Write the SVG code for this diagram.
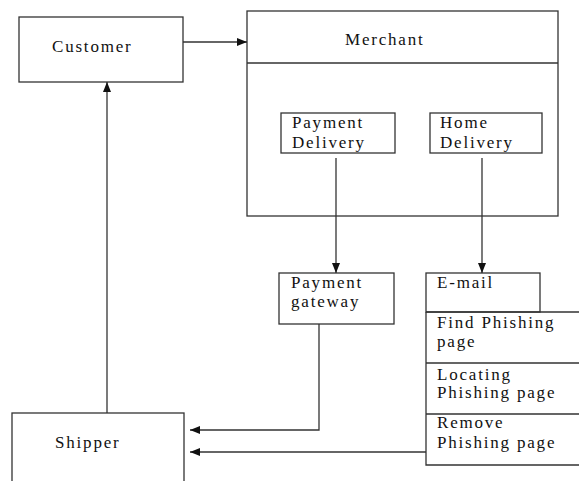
<svg xmlns="http://www.w3.org/2000/svg" width="579" height="481" viewBox="0 0 579 481">
<style>
.box{fill:#fff;stroke:#333;stroke-width:1.3}
.ln{fill:none;stroke:#333;stroke-width:1.3}
</style>
<defs>
<marker id="ah" viewBox="0 0 10 8" refX="10" refY="4" markerWidth="10" markerHeight="8" markerUnits="userSpaceOnUse" orient="auto">
<path d="M0,0 L10,4 L0,8 Z" fill="#111"/>
</marker>
</defs>
<rect width="579" height="481" fill="#fff"/>
<g font-family="Liberation Serif, Times New Roman, serif" font-size="17" letter-spacing="1.8" fill="#111">
<g id="customer">
<rect class="box" x="19" y="17" width="164" height="65"/>
<text x="52" y="52">Customer</text>
</g>
<g id="merchant">
<rect class="box" x="247" y="11" width="311" height="205"/>
<line class="ln" x1="247" y1="63" x2="558" y2="63"/>
<text x="345" y="45">Merchant</text>
</g>
<g id="payment-delivery">
<rect class="box" x="281" y="113" width="114" height="40"/>
<text x="292" y="128">Payment</text>
<text x="292" y="148">Delivery</text>
</g>
<g id="home-delivery">
<rect class="box" x="430" y="113" width="112" height="40"/>
<text x="440" y="128">Home</text>
<text x="440" y="148">Delivery</text>
</g>
<g id="payment-gateway">
<rect class="box" x="279" y="273" width="115" height="51"/>
<text x="291" y="288">Payment</text>
<text x="291" y="307">gateway</text>
</g>
<g id="email">
<rect class="box" x="426" y="273" width="114" height="39"/>
<text x="437" y="288">E-mail</text>
</g>
<g id="phishing-steps">
<path class="ln" d="M426,312 V465 H580 M426,312 H580 M426,363 H580 M426,414 H580"/>
<text x="437" y="328">Find Phishing</text>
<text x="437" y="347">page</text>
<text x="437" y="380">Locating</text>
<text x="437" y="398">Phishing page</text>
<text x="437" y="428">Remove</text>
<text x="437" y="448">Phishing page</text>
</g>
<g id="shipper">
<rect class="box" x="12" y="413" width="172" height="80"/>
<text x="55" y="448">Shipper</text>
</g>
</g>
<g id="connectors">
<line class="ln" x1="183" y1="42" x2="247" y2="42" marker-end="url(#ah)"/>
<line class="ln" x1="336" y1="158" x2="336" y2="273" marker-end="url(#ah)"/>
<line class="ln" x1="482" y1="158" x2="482" y2="273" marker-end="url(#ah)"/>
<polyline class="ln" points="319,324 319,430 190,430" marker-end="url(#ah)"/>
<line class="ln" x1="426" y1="452" x2="190" y2="452" marker-end="url(#ah)"/>
<line class="ln" x1="107" y1="413" x2="107" y2="82" marker-end="url(#ah)"/>
</g>
</svg>
